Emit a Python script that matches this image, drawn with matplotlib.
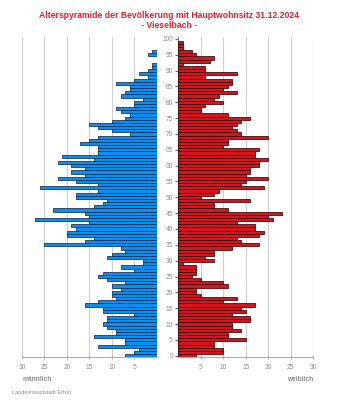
import numpy as np
import matplotlib
matplotlib.use("Agg")
import matplotlib.pyplot as plt

plt.rcParams['font.family'] = ['Liberation Sans', 'DejaVu Sans']

# Einwohner nach Alter (0 .. 100 Jahre)
alter = np.arange(0, 101)
maennlich = [7, 5, 4, 13, 7, 7, 14, 9, 9, 11,
             12, 11, 11, 5, 12, 12, 16, 13, 9, 10,
             10, 8, 10, 7, 11, 13, 12, 5, 8, 3,
             3, 11, 10, 7, 8, 25, 16, 14, 20, 20,
             18, 19, 15, 27, 15, 16, 23, 14, 12, 11,
             18, 18, 13, 26, 13, 18, 22, 16, 19, 16,
             19, 22, 14, 21, 13, 13, 13, 17, 15, 13,
             6, 10, 13, 15, 10, 7, 6, 8, 9, 5,
             5, 3, 8, 7, 6, 6, 9, 5, 2, 4,
             2, 1, 1, 0, 0, 2, 1, 0, 0, 0,
             0]
weiblich = [4, 10, 10, 8, 8, 15, 11, 11, 14, 12,
            12, 16, 16, 12, 15, 14, 17, 10, 13, 5,
            4, 4, 11, 10, 5, 3, 4, 4, 4, 1,
            8, 6, 8, 8, 12, 18, 14, 13, 18, 19,
            17, 17, 13, 21, 20, 23, 11, 8, 8, 16,
            5, 8, 9, 19, 14, 15, 20, 15, 16, 16,
            18, 18, 20, 17, 17, 18, 10, 11, 11, 20,
            14, 13, 12, 13, 14, 16, 11, 5, 5, 6,
            10, 8, 9, 13, 10, 11, 12, 12, 6, 13,
            6, 6, 1, 7, 8, 4, 3, 1, 1, 1,
            0]

x_ticks = [5, 10, 15, 20, 25, 30]
y_ticks = list(range(0, 101, 5))

grau = '#8c8c8c'
gitter = '#cfcfcf'

fig = plt.figure(figsize=(3.38, 4.05), dpi=100)
ax_m = fig.add_axes([0.0651, 0.1178, 0.398, 0.790])
ax_w = fig.add_axes([0.528, 0.1178, 0.398, 0.790])

m = np.array(maennlich)
w = np.array(weiblich)
ax_m.barh(alter[m > 0], m[m > 0], height=1.0, color='#0a8ef0',
          edgecolor='#142c54', linewidth=0.55, zorder=3)
ax_w.barh(alter[w > 0], w[w > 0], height=1.0, color='#d2161e',
          edgecolor='#330606', linewidth=0.55, zorder=3)

for ax in (ax_m, ax_w):
    ax.set_ylim(-0.5, 100.5)
    ax.set_xticks(x_ticks)
    ax.set_xticklabels([str(t) for t in x_ticks])
    ax.grid(axis='x', color=gitter, linewidth=0.8, zorder=0)
    for s in ('top', 'right', 'left'):
        ax.spines[s].set_visible(False)
    ax.spines['bottom'].set_color('#b0b0b0')
    ax.spines['bottom'].set_linewidth(0.8)
    ax.tick_params(axis='x', colors='#b0b0b0', labelcolor=grau,
                   labelsize=4.8, length=3, direction='inout', pad=3)

ax_m.set_xlim(30, 0)
ax_m.set_yticks([])
ax_m.axvline(30, color=gitter, linewidth=0.8, zorder=0)

ax_w.set_xlim(0, 30)
ax_w.axvline(30, color=gitter, linewidth=0.8, zorder=0)
ax_w.spines['left'].set_visible(True)
ax_w.spines['left'].set_color('#666666')
ax_w.spines['left'].set_linewidth(0.6)
ax_w.set_yticks(y_ticks)
ax_w.set_yticklabels([str(t) for t in y_ticks])
ax_w.tick_params(axis='y', colors='#666666', labelcolor=grau,
                 labelsize=4.8, length=2, pad=2)

fig.text(0.5, 0.962, 'Alterspyramide der Bevölkerung mit Hauptwohnsitz 31.12.2024',
         ha='center', va='center', color='#d8202a', fontsize=6.2, fontweight='bold')
fig.text(0.5, 0.938, '- Vieselbach -',
         ha='center', va='center', color='#d8202a', fontsize=6.2, fontweight='bold')

fig.text(0.068, 0.062, 'männlich', ha='left', va='center', color=grau,
         fontsize=4.8, fontweight='bold')
fig.text(0.926, 0.062, 'weiblich', ha='right', va='center', color=grau,
         fontsize=4.8, fontweight='bold')
fig.text(0.035, 0.032, 'Landeshauptstadt Erfurt', ha='left', va='center',
         color=grau, fontsize=4.0)

fig.savefig('out.png', dpi=100, facecolor='white')
